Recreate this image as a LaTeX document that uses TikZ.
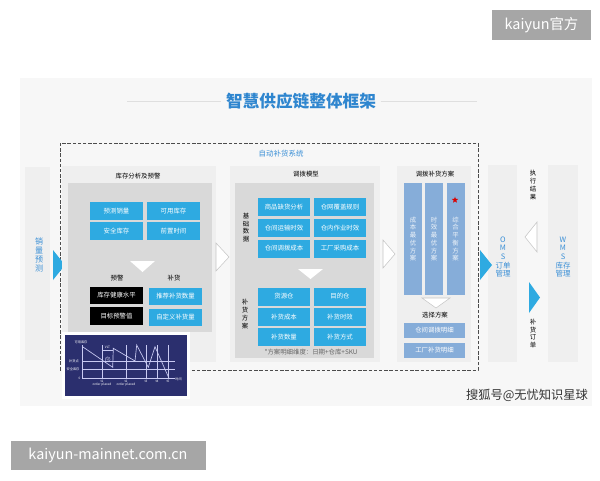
\documentclass[tikz,border=0pt]{standalone}
\usepackage{fontspec}
\setmainfont{Noto Sans CJK SC}
\usetikzlibrary{positioning,shapes.geometric}
\definecolor{skyb}{HTML}{2EAAE1}
\definecolor{steel}{HTML}{86ADD9}
\definecolor{txtblue}{HTML}{3A8FD6}
\definecolor{titleblue}{HTML}{2F86CF}
\definecolor{panelbg}{HTML}{EFEFEF}
\definecolor{innerbg}{HTML}{D9D9D9}
\definecolor{wmgray}{HTML}{A6A6A6}
\definecolor{navy}{HTML}{2B2F6E}
\definecolor{lav}{HTML}{C9CAF2}

\begin{document}
\begin{tikzpicture}[x=0.75pt,y=-0.75pt,
  font=\fontsize{4.8}{5.8}\selectfont,
  bluebox/.style={fill=skyb, text=white, minimum width=39pt, minimum height=13.5pt, inner sep=0pt},
  blackbox/.style={fill=black, text=white, minimum width=39.75pt, minimum height=13pt, inner sep=0pt},
  steelbox/.style={fill=steel, text=white, minimum width=45.75pt, minimum height=11.25pt, inner sep=0pt},
  plancol/.style={fill=steel, text=white!85!steel, minimum width=13.5pt, minimum height=84pt, inner sep=0pt, align=center},
  vtext/.style={align=center, inner sep=0pt},
  bigv/.style={vtext, text=txtblue, font=\fontsize{5.6}{6.5}\selectfont},
  wmark/.style={fill=wmgray, text=white, font=\fontsize{10.8}{12}\selectfont, inner sep=0pt},
  tri/.style={fill=skyb},
  hollow/.style={fill=white, draw=gray!45, line width=0.4pt},
  chartln/.style={draw=lav, line width=0.35pt},
  chartlbl/.style={text=white, inner sep=0pt, font=\fontsize{2.4}{2.8}\selectfont}
]
\useasboundingbox (0,0) rectangle (600,480);
\fill[white] (0,0) rectangle (600,480);
\fill[black!3] (20,78) rectangle (592,406);

\node[wmark, minimum width=74.25pt, minimum height=22.5pt] (wm1) at (541.5,25) {kaiyun官方};
\node[wmark, minimum width=146.25pt, minimum height=21.75pt] (wm2) at (108,455.5) {kaiyun-mainnet.com.cn};

\node[font=\bfseries\fontsize{12.5}{14}\selectfont, text=titleblue] (title) at (301,101) {智慧供应链整体框架};
\coordinate (tl) at (127,101);
\coordinate (tr) at (477,101);
\draw[gray!25, line width=0.5pt] (tl) -- (title.west);
\draw[gray!25, line width=0.5pt] (title.east) -- (tr);

\draw[dashed, dash pattern=on 2.6pt off 1.3pt, gray!60!black, line width=0.6pt] (60,143) rectangle (478,370);
\node[text=txtblue, font=\fontsize{5.6}{6.5}\selectfont, anchor=west] (sys) at (254,154) {自动补货系统};

\fill[panelbg] (25,167) rectangle (50,360);
\node[bigv, font=\fontsize{6}{6.8}\selectfont] (xl) at (39,255) {销\\量\\预\\测};
\fill[tri] (53,250) -- (65,265) -- (53,280) -- cycle;

\fill[panelbg] (62,166) rectangle (216,362);
\fill[innerbg] (68,183) rectangle (212,332);
\node (p1) at (138,176) {库存分析及预警};
\node[bluebox, minimum width=39.75pt] (a1) at (116.5,211) {预测销量};
\node[bluebox, minimum width=39.75pt] (a2) at (173.5,211) {可用库存};
\node[bluebox, minimum width=39.75pt] (a3) at (116.5,231) {安全库存};
\node[bluebox, minimum width=39.75pt] (a4) at (173.5,231) {前置时间};
\filldraw[hollow, draw=none] (130,261) -- (155,261) -- (142.5,272) -- cycle;
\node (yj) at (117,278) {预警};
\node (bh) at (174,278) {补货};
\node[blackbox] (b1) at (116.5,295.5) {库存健康水平};
\node[blackbox] (b2) at (116.5,316) {目标预警值};
\node[bluebox, minimum width=39.75pt, minimum height=12.75pt] (b3) at (175.5,296) {推荐补货数量};
\node[bluebox, minimum width=39.75pt, minimum height=12.75pt] (b4) at (175.5,317) {自定义补货量};

\filldraw[hollow] (216,243) -- (229,257) -- (216,271) -- cycle;

\fill[panelbg] (230,166) rectangle (380,362);
\fill[innerbg] (235,183) rectangle (374,358);
\node (p2) at (306,174) {调拨模型};
\node[vtext] (jc) at (246,227.5) {基\\础\\数\\据};
\node[bluebox] (c1) at (284,207) {商品缺货分析};
\node[bluebox] (c2) at (340,207) {仓网覆盖规则};
\node[bluebox] (c3) at (284,228) {仓间运输时效};
\node[bluebox] (c4) at (340,228) {仓内作业时效};
\node[bluebox] (c5) at (284,248.5) {仓间调拨成本};
\node[bluebox] (c6) at (340,248.5) {工厂采购成本};
\filldraw[hollow, draw=none] (298,269) -- (323,269) -- (310.5,279) -- cycle;
\node[vtext] (fa) at (245,314) {补\\货\\方\\案};
\node[bluebox] (d1) at (284,296.5) {货源仓};
\node[bluebox] (d2) at (340,296.5) {目的仓};
\node[bluebox] (d3) at (284,317) {补货成本};
\node[bluebox] (d4) at (340,317) {补货时效};
\node[bluebox] (d5) at (284,337) {补货数量};
\node[bluebox] (d6) at (340,337) {补货方式};
\node[text=black!60] (note) at (311,352) {*方案明细维度：日期+仓库+SKU};

\filldraw[hollow] (383,240) -- (395,254) -- (383,268) -- cycle;

\fill[panelbg] (397,166) rectangle (471,362);
\node (p3) at (435,174) {调拨补货方案};
\node[plancol] (e1) at (413,239) {成\\本\\最\\优\\方\\案};
\node[plancol] (e2) at (434,239) {时\\效\\最\\优\\方\\案};
\node[plancol] (e3) at (455.5,239) {综\\合\\平\\衡\\方\\案};
\node[star, star points=5, star point ratio=2.4, fill=red!85!black, minimum size=5pt, inner sep=0pt] (st) at (455,200) {};
\filldraw[hollow] (422,298) -- (450,298) -- (436,308) -- cycle;
\node (xz) at (435,315) {选择方案};
\node[steelbox] (f1) at (434.5,330.5) {仓间调拨明细};
\node[steelbox] (f2) at (434.5,350.5) {工厂补货明细};

\fill[panelbg] (488,165) rectangle (517,362);
\fill[panelbg] (548,165) rectangle (578,362);
\fill[tri] (480,250) -- (492,265) -- (480,280) -- cycle;
\node[bigv] (oms) at (503,257) {O\\M\\S\\订单\\管理};
\node[bigv] (wms) at (563,257) {W\\M\\S\\库存\\管理};
\node[vtext] (zx) at (533,185) {执\\行\\结\\果};
\filldraw[hollow] (537,222) -- (525,237) -- (537,252) -- cycle;
\fill[tri] (529,282) -- (540,297.5) -- (529,313) -- cycle;
\node[vtext] (dd) at (533,333.5) {补\\货\\订\\单};

\fill[white] (62,332) rectangle (190,399);
\fill[navy] (65,335) rectangle (187,396);
\draw[chartln] (82,345) -- (82,378) -- (175,378);
\foreach \x in {102,126,146,157,168}
  \draw[chartln, line width=0.2pt] (\x,345) -- (\x,378);
\draw[chartln, line width=0.25pt] (82,361) -- (175,361);
\draw[chartln, line width=0.25pt] (82,369) -- (175,369);
\draw[chartln, line width=0.5pt] (83,347) -- (112.7,367.3) -- (113.3,348.3) -- (135,361) -- (136.7,345)
  -- (148.3,367.3) -- (155,346.7) -- (169,378.3);
\draw[chartln, line width=0.25pt] (102,350.5) -- (113,350.5);
\node[chartlbl] (vlt) at (107.5,347.5) {VLT};
\node[chartlbl, draw=lav, circle, line width=0.2pt, inner sep=0.3pt] (q) at (107.7,359.3) {Q};
\node[chartlbl] (k0) at (81,342) {可用库存};
\node[chartlbl] (k1) at (74,361) {补货点};
\node[chartlbl] (k2) at (73,369) {安全库存};
\node[chartlbl] (k3) at (79.5,378) {0};
\node[chartlbl] (k4) at (178.5,379) {时间};
\node[chartlbl] (t1) at (102,381.5) {t1};
\node[chartlbl] (t2) at (126,381.5) {t2};
\node[chartlbl] (t3) at (146,381.5) {t3};
\node[chartlbl] (t4) at (157,381.5) {t4};
\node[chartlbl] (t5) at (168,381.5) {t5};
\node[chartlbl] (o1) at (102,385) {order placed};
\node[chartlbl] (o2) at (126,385) {order placed};

\node[text=black!80, font=\fontsize{9.2}{10}\selectfont] (sh) at (527,395) {搜狐号@无忧知识星球};
\end{tikzpicture}
\end{document}
